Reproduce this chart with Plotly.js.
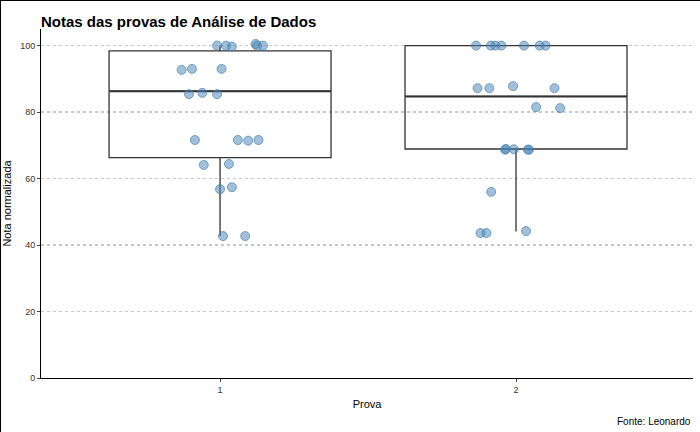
<!DOCTYPE html><html><head><script src="https://cdn.plot.ly/plotly-3.0.1.min.js"></script>
<style>body{margin:0}#c{width:700px;height:432px;box-sizing:border-box;border:1px solid #000}</style></head><body><div id="c"></div><script>
const x1=[0.99,1.02,1.04,1.12,1.125,1.145,0.87,0.905,1.005,0.895,0.94,0.99,0.915,1.06,1.095,1.13,0.945,1.03,1.0,1.04,1.01,1.085];
const y1=[100,100,99.7,100.5,100,100,92.7,93,93,85.4,85.8,85.4,71.6,71.6,71.4,71.6,64.1,64.4,56.8,57.4,42.7,42.7];
const x2=[1.865,1.915,1.93,1.95,2.027,2.08,2.1,1.87,1.91,1.99,2.13,2.068,2.149,1.963,1.966,1.993,2.04,2.044,1.916,1.88,1.9,2.034];
const y2=[100,100,100,100,100,100,100,87.2,87.2,87.8,87.2,81.5,81.2,68.7,68.9,68.8,68.7,68.7,56,43.6,43.6,44.2];
const boxX=[1,2],q1=[66.3,68.9],med=[86.3,84.7],q3=[98.4,100],lo=[42.7,44.1],hi=[100,100];
const halfW=0.375;
const pt={color:'rgba(70,130,180,0.5)',size:9,line:{color:'rgba(70,130,180,0.7)',width:1}};
const medTraces=boxX.map((b,i)=>({type:'scatter',mode:'lines',x:[b-halfW,b+halfW],y:[med[i],med[i]],line:{color:'#333',width:2},hoverinfo:'none'}));
Plotly.newPlot('c',[
{type:'box',x:boxX,q1:q1,median:med,q3:q3,lowerfence:lo,upperfence:hi,width:0.75,whiskerwidth:0,fillcolor:'rgba(255,255,255,0)',line:{color:'#333',width:1.3},boxpoints:false,hoverinfo:'none'},
...medTraces,
{type:'scatter',mode:'markers',x:x1.concat(x2),y:y1.concat(y2),marker:pt}
],{width:700,height:432,showlegend:false,paper_bgcolor:'#fff',plot_bgcolor:'#fff',
margin:{l:40,r:8,t:28,b:55},
title:{text:'<b>Notas das provas de Análise de Dados</b>',x:0.057,xanchor:'left',y:0.965,font:{family:'Liberation Sans',size:15,color:'#000'}},
font:{family:'Liberation Sans',size:10,color:'#000'},
xaxis:{range:[0.395,2.598],tickvals:[1,2],ticktext:['1','2'],showgrid:false,zeroline:false,showline:true,linecolor:'#000',ticks:'outside',ticklen:3,tickfont:{size:9,color:'#333'},title:{text:'Prova',font:{size:11},standoff:6}},
yaxis:{range:[0,105],tickvals:[0,20,40,60,80,100],showgrid:true,gridcolor:'#c8c8c8',griddash:'dot',gridwidth:1.3,zeroline:false,showline:true,linecolor:'#000',ticks:'outside',ticklen:3,tickfont:{size:9,color:'#333'},title:{text:'Nota normalizada',font:{size:11},standoff:6}},
annotations:[{text:'Fonte: Leonardo',xref:'paper',yref:'paper',x:1,y:-0.125,xanchor:'right',yanchor:'middle',showarrow:false,font:{size:10}}]
},{staticPlot:true});
</script></body></html>
